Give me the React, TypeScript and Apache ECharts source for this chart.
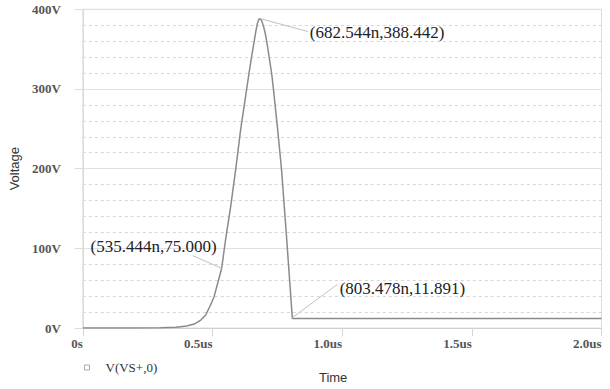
import React, { useEffect, useRef } from 'react';
import * as echarts from 'echarts';

// Time in ns, voltage in V
const timeNs = [0, 100, 200, 300, 360, 400, 430, 455, 474, 490, 506, 523, 535.444, 551, 570, 590, 609, 632, 641, 652, 660, 667, 673, 678, 682.544, 687, 692, 698, 704, 709, 720, 728, 735, 752, 766, 785, 808, 2000];
const voltage = [0, 0, 0.1, 0.4, 1, 2.5, 5, 10, 16.4, 27, 39, 59.6, 75, 112, 152, 200, 250, 300, 320, 343, 358, 372, 382, 387, 388.442, 387, 383.5, 377, 369, 360, 337, 320, 300, 247, 200, 117, 11.891, 11.891];

const xTickValues = [0, 500, 1000, 1500, 2000];
const xTickLabels = ['0s', '0.5us', '1.0us', '1.5us', '2.0us'];
const yTickValues = [0, 100, 200, 300, 400];
const yTickLabels = ['0V', '100V', '200V', '300V', '400V'];

const markerT = [682.544, 535.444, 803.478];
const markerV = [388.442, 75.0, 11.891];
const markerText = ['(682.544n,388.442)', '(535.444n,75.000)', '(803.478n,11.891)'];

const seriesName = 'V(VS+,0)';

export default function App() {
  const ref = useRef<HTMLDivElement>(null);
  useEffect(() => {
    if (!ref.current) return;
    const chart = echarts.init(ref.current, null, { renderer: 'svg' });
    const serif = 'Liberation Serif';
    const sans = 'Liberation Sans';
    chart.setOption({
      animation: false,
      backgroundColor: '#ffffff',
      grid: {
        left: 80, right: 8.5, top: 9.3, bottom: 55.7,
        show: true, borderColor: '#dcdcdc', borderWidth: 1, backgroundColor: 'transparent',
      },
      legend: {
        show: true,
        left: 79, top: 356,
        icon: 'rect', itemWidth: 5, itemHeight: 5,
        itemStyle: { color: '#ffffff', borderColor: '#aaaaaa', borderWidth: 1 },
        textStyle: { fontFamily: serif, fontSize: 13, color: '#333', padding: [0, 0, 0, 11] },
        data: [seriesName],
      },
      xAxis: {
        type: 'value', min: 0, max: 2000, interval: 500,
        name: 'Time', nameLocation: 'middle', nameGap: 43,
        nameTextStyle: { fontFamily: sans, fontSize: 13, color: '#333', padding: [0, 18, 0, 0] },
        axisLine: { show: true, lineStyle: { color: '#cfcfcf', width: 1 } },
        axisTick: { show: true, length: 8, lineStyle: { color: '#d5d5d5' } },
        splitLine: { show: false },
        axisLabel: {
          fontFamily: serif, fontSize: 13, fontWeight: 'bold', color: '#555', margin: 9, align: 'right',
          formatter: (v: number) => {
            const i = xTickValues.indexOf(v);
            return i >= 0 ? xTickLabels[i] : '';
          },
        },
      },
      yAxis: {
        type: 'value', min: 0, max: 400, interval: 100,
        name: 'Voltage', nameLocation: 'middle', nameGap: 56,
        nameTextStyle: { fontFamily: sans, fontSize: 13, color: '#333' },
        axisLine: { show: true, lineStyle: { color: '#dcdcdc' } },
        axisTick: { show: true, length: 8, lineStyle: { color: '#dcdcdc' } },
        splitLine: { show: true, lineStyle: { color: '#e0e0e0', width: 1.2 } },
        minorTick: { show: false, splitNumber: 5 },
        minorSplitLine: { show: true, lineStyle: { color: '#d6d6d6', type: [3, 3], width: 1 } },
        axisLabel: {
          fontFamily: serif, fontSize: 13, fontWeight: 'bold', color: '#555', margin: 22,
          formatter: (v: number) => {
            const i = yTickValues.indexOf(v);
            return i >= 0 ? yTickLabels[i] : '';
          },
        },
      },
      series: [{
        name: seriesName,
        type: 'line',
        data: timeNs.map((t, i) => [t, voltage[i]]),
        showSymbol: false,
        symbol: 'none',
        smooth: false,
        lineStyle: { color: '#8a8a8a', width: 1.5 },
        itemStyle: { color: '#8a8a8a' },
      }],
    });

    const offsets = [
      { line: [48, 13], text: [50, 14], align: 'left' },
      { line: [-29, -12.6], text: [-5, -21.6], align: 'right' },
      { line: [46, -34], text: [48.5, -30], align: 'left' },
    ];
    const elements: any[] = [];
    markerT.forEach((t, i) => {
      const p = chart.convertToPixel({ gridIndex: 0 }, [t, markerV[i]]) as number[];
      const o = offsets[i];
      elements.push({
        type: 'line',
        shape: { x1: p[0], y1: p[1], x2: p[0] + o.line[0], y2: p[1] + o.line[1] },
        style: { stroke: '#c0c0c0', lineWidth: 1 },
        z: 10,
      });
      elements.push({
        type: 'text',
        x: p[0] + o.text[0], y: p[1] + o.text[1],
        style: {
          text: markerText[i], fontFamily: serif, fontSize: 17, fill: '#222',
          textAlign: o.align, textVerticalAlign: 'middle',
        },
        z: 11,
      });
    });
    chart.setOption({ graphic: { elements } });
    return () => chart.dispose();
  }, []);
  return <div ref={ref} style={{ position: 'fixed', left: 0, top: 0, width: 610, height: 389 }} />;
}
